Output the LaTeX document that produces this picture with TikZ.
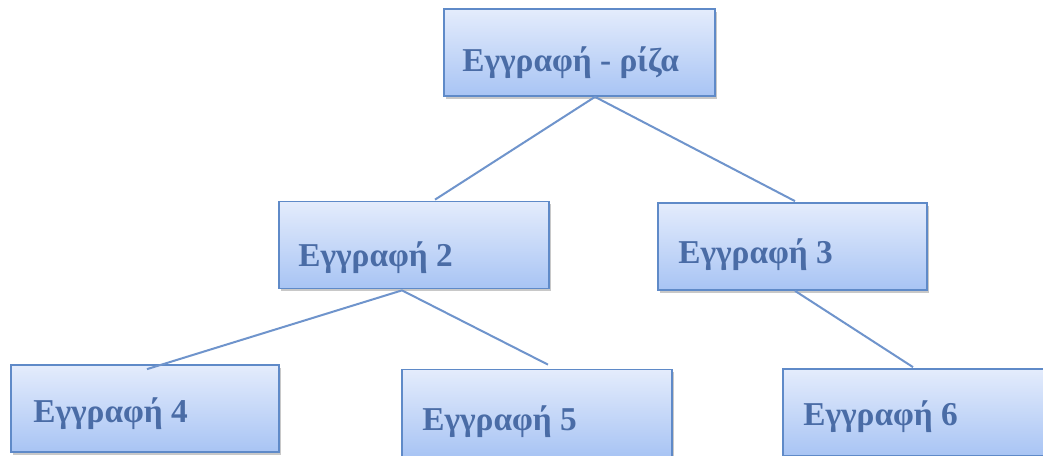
\documentclass[tikz,border=0pt]{standalone}
\usepackage{fontspec}
\setmainfont{Liberation Serif}
\usetikzlibrary{calc,shadows}
\definecolor{boxtop}{HTML}{E4ECFC}
\definecolor{boxbot}{HTML}{A8C4F4}
\definecolor{boxline}{HTML}{5F8AC8}
\definecolor{linkcol}{HTML}{6F94CC}
\definecolor{txtcol}{HTML}{4A6CA6}
\tikzset{
  recbox/.style={draw=boxline, line width=1.3pt, top color=boxtop, bottom color=boxbot,
    minimum width=#1*0.75pt, minimum height=87*0.75pt, inner sep=0pt,
    drop shadow={shadow xshift=1.2pt, shadow yshift=-2.2pt, opacity=0.3, fill=black!70}},
  rectxt/.style={anchor=base west, inner sep=0pt, text=txtcol,
    font=\fontsize{25}{29}\selectfont\bfseries},
  link/.style={draw=linkcol, line width=1.5pt}
}
\begin{document}
\begin{tikzpicture}[x=0.75pt, y=-0.75pt]
\useasboundingbox (0,0) rectangle (1043,456);
\clip (0,0) rectangle (1043,456);
\fill[white] (0,0) rectangle (1043,456);

% record boxes
\node[recbox=271] (root) at (579.5,52.5) {};
\node[recbox=270] (b2) at (414,245) {};
\node[recbox=269] (b3) at (792.5,246.5) {};
\node[recbox=268] (b4) at (145,408.5) {};
\node[recbox=270] (b5) at (537,413) {};
\node[recbox=270] (b6) at (918,412.5) {};

% labels
\node[rectxt] (troot) at (462,72) {Εγγραφή - ρίζα};
\node[rectxt] (t2) at (298,267) {Εγγραφή 2};
\node[rectxt] (t3) at (678,263) {Εγγραφή 3};
\node[rectxt] (t4) at (33,422) {Εγγραφή 4};
\node[rectxt] (t5) at (422,430) {Εγγραφή 5};
\node[rectxt] (t6) at (803,425) {Εγγραφή 6};

% tree links
\draw[link] ($(root.south)+(15.5,0)$) -- ($(b2.north)+(21,-1)$);
\draw[link] ($(root.south)+(15.5,0)$) -- ($(b3.north)+(2.5,-1)$);
\draw[link] ($(b2.south)+(-12,1)$) -- ($(b4.north)+(2,5)$);
\draw[link] ($(b2.south)+(-12,1)$) -- ($(b5.north)+(11,-4)$);
\draw[link] ($(b3.south)+(2.5,0)$) -- ($(b6.north)+(-5,-1)$);
\end{tikzpicture}
\end{document}
